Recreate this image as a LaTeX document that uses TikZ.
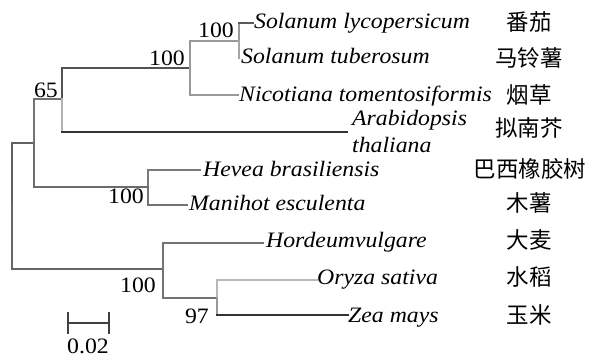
\documentclass[tikz,border=0pt]{standalone}
\usepackage{fontspec}
\setmainfont{Liberation Serif}[FakeStretch=1.08]
\newfontfamily\cjk{Noto Sans CJK SC}
\begin{document}
\begin{tikzpicture}[x=1pt,y=-1pt,
  br/.style={line width=1.2pt,line cap=rect},
  lat/.style={inner sep=0pt,font=\fontsize{22}{24}\selectfont},
  sp/.style={lat,anchor=base west,font=\fontsize{22}{24}\selectfont\itshape},
  bs/.style={lat,anchor=base east},
  zh/.style={inner sep=0pt,anchor=center,font=\cjk\fontsize{22.5}{24}\selectfont}]
\useasboundingbox (0,0) rectangle (590,357);
% internal nodes
\coordinate (R) at (12,206);
\coordinate (A) at (34,143);
\coordinate (B) at (62,99);
\coordinate (C) at (190,68);
\coordinate (D) at (239,41);
\coordinate (E) at (148,187);
\coordinate (F) at (163,269);
\coordinate (G) at (217,298);
% leaf ends
\coordinate (lSL) at (253,23);
\coordinate (lST) at (239,58);
\coordinate (lNi) at (238,95);
\coordinate (lAr) at (347,132);
\coordinate (lHe) at (200,170);
\coordinate (lMa) at (187,205);
\coordinate (lHo) at (263,243);
\coordinate (lOr) at (317,280);
\coordinate (lZe) at (348,315);
% branches
\draw[br,draw=black!62] (R) |- (A);
\draw[br,draw=black!60] (R) |- (F);
\draw[br,draw=black!55] (A) |- (B);
\draw[br,draw=black!58] (A) |- (E);
\draw[br,draw=black!68] (B) |- (C);
\draw[br,draw=black!30] (B) -- (62,132);
\draw[br,draw=black!80] (62,132) -- (lAr);
\draw[br,draw=black!40] (C) |- (D);
\draw[br,draw=black!40] (C) |- (lNi);
\draw[br,draw=black!40] (D) -- (239,23);
\draw[br,draw=black!65] (239,23) -- (lSL);
\draw[br,draw=black!35] (D) -- (lST);
\draw[br,draw=black!52] (E) |- (lHe);
\draw[br,draw=black!55] (E) |- (lMa);
\draw[br,draw=black!55] (F) |- (lHo);
\draw[br,draw=black!55] (F) |- (G);
\draw[br,draw=black!28] (G) |- (lOr);
\draw[br,draw=black!40] (G) -- (217,315);
\draw[br,draw=black!80] (217,315) -- (lZe);
% bootstrap values
\node[bs] (b65) at (58,97) {65};
\node[bs] (bB) at (185,65) {100};
\node[bs] (bC) at (234,37) {100};
\node[bs] (bE) at (144,203) {100};
\node[bs] (bF) at (156,292) {100};
\node[bs] (bG) at (209,323) {97};
% species names
\node[sp] (tSL) at (254,28) {Solanum lycopersicum};
\node[sp] (tST) at (241,63) {Solanum tuberosum};
\node[sp] (tNi) at (239,101) {Nicotiana tomentosiformis};
\node[sp] (tAr1) at (352,125) {Arabidopsis};
\node[sp] (tAr2) at (352,152) {thaliana};
\node[sp] (tHe) at (203,176) {Hevea brasiliensis};
\node[sp] (tMa) at (189,210) {Manihot esculenta};
\node[sp] (tHo) at (266,247) {Hordeumvulgare};
\node[sp] (tOr) at (317,284) {Oryza sativa};
\node[sp] (tZe) at (348,322) {Zea mays};
% chinese names
\node[zh] (cSL) at (529,22) {番茄};
\node[zh] (cST) at (529,58) {马铃薯};
\node[zh] (cNi) at (529,95) {烟草};
\node[zh] (cAr) at (529,128) {拟南芥};
\node[zh] (cHe) at (530,169) {巴西橡胶树};
\node[zh] (cMa) at (529,203) {木薯};
\node[zh] (cHo) at (529,240) {大麦};
\node[zh] (cOr) at (529,277) {水稻};
\node[zh] (cZe) at (529,315) {玉米};
% scale bar
\coordinate (s1) at (68,323);
\coordinate (s2) at (109,323);
\draw[br,draw=black!75,line cap=butt] (s1) -- (s2);
\draw[br,draw=black!75,line cap=butt] (68,312) -- (68,334);
\draw[br,draw=black!75,line cap=butt] (109,312) -- (109,334);
\node[lat,anchor=base,text depth=0pt] (sl) at (88,353) {0.02};
\end{tikzpicture}
\end{document}
